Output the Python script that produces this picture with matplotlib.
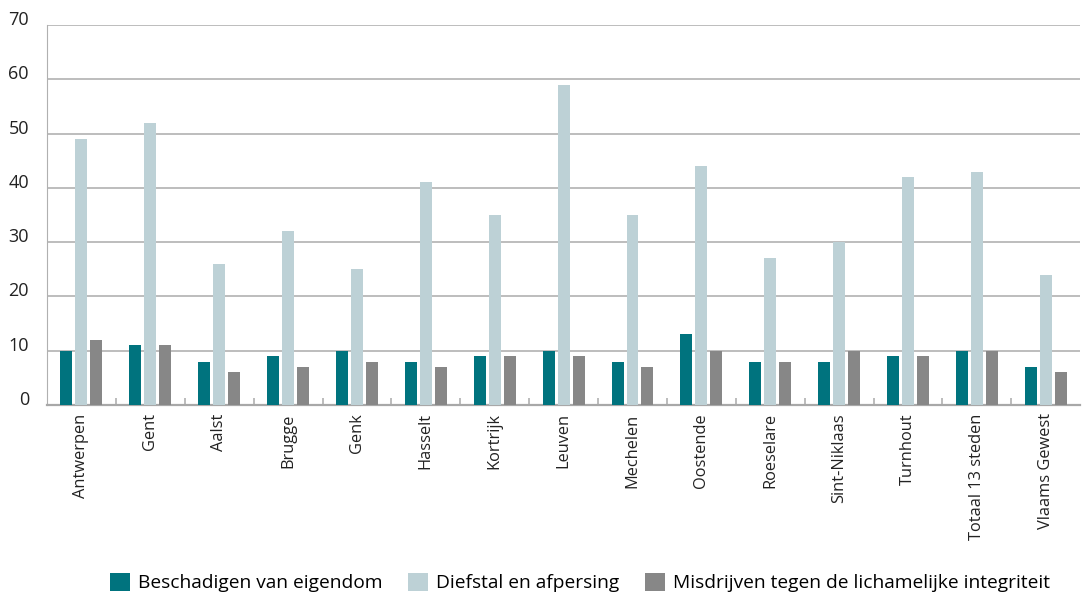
import numpy as np
import matplotlib.pyplot as plt
import matplotlib.transforms as mtransforms

plt.rcParams['font.family'] = ['Open Sans', 'DejaVu Sans']

steden = ["Antwerpen", "Gent", "Aalst", "Brugge", "Genk", "Hasselt", "Kortrijk",
          "Leuven", "Mechelen", "Oostende", "Roeselare", "Sint-Niklaas",
          "Turnhout", "Totaal 13 steden", "Vlaams Gewest"]
beschadigen = [10, 11, 8, 9, 10, 8, 9, 10, 8, 13, 8, 8, 9, 10, 7]
diefstal = [49, 52, 26, 32, 25, 41, 35, 59, 35, 44, 27, 30, 42, 43, 24]
misdrijven = [12, 11, 6, 7, 8, 7, 9, 9, 7, 10, 8, 10, 9, 10, 6]

series = ["Beschadigen van eigendom", "Diefstal en afpersing",
          "Misdrijven tegen de lichamelijke integriteit"]
colors = ["#00737e", "#bdd1d6", "#878787"]

fig = plt.figure(figsize=(10.82, 5.93), dpi=100)
ax = fig.add_axes([0.0434, 0.317, 0.955, 0.641])

x = np.arange(len(steden))
w = 0.174
step = 0.217
for i, (vals, c, lab) in enumerate(zip([beschadigen, diefstal, misdrijven], colors, series)):
    ax.bar(x + (i - 1) * step, vals, width=w, color=c, label=lab, zorder=3)

ax.set_xlim(-0.5, len(steden) - 0.5)
ax.set_ylim(0, 70)
ax.set_yticks(range(0, 71, 10))
ax.yaxis.grid(True, color="#b8b8b8", linewidth=1.3, zorder=0)
ax.tick_params(axis="y", length=0, pad=13, labelsize=13, labelcolor="#222222")

ax.set_xticks(x)
ax.set_xticklabels(steden, rotation=90, fontsize=11.8, color="#222222")
ax.tick_params(axis="x", length=0, pad=6)
ax.set_xticks(x[:-1] + 0.5, minor=True)
ax.tick_params(axis="x", which="minor", direction="in", length=5, color="#b0b0b0", width=1.2)

for s in ["top", "right"]:
    ax.spines[s].set_visible(False)
ax.spines["left"].set_color("#b0b0b0")
ax.spines["bottom"].set_color("#a8a8a8")
ax.spines["bottom"].set_linewidth(1.6)

# y labels sit a bit above their gridline
off = mtransforms.ScaledTranslation(0, 5 / 72, fig.dpi_scale_trans)
for lbl in ax.get_yticklabels():
    lbl.set_transform(lbl.get_transform() + off)

fig.legend(loc="lower center", bbox_to_anchor=(0.536, -0.028), ncol=3, frameon=False,
           fontsize=13.8, handlelength=1.05, handleheight=1.05, handletextpad=0.45,
           columnspacing=1.3)

fig.savefig("out.png", dpi=100)
